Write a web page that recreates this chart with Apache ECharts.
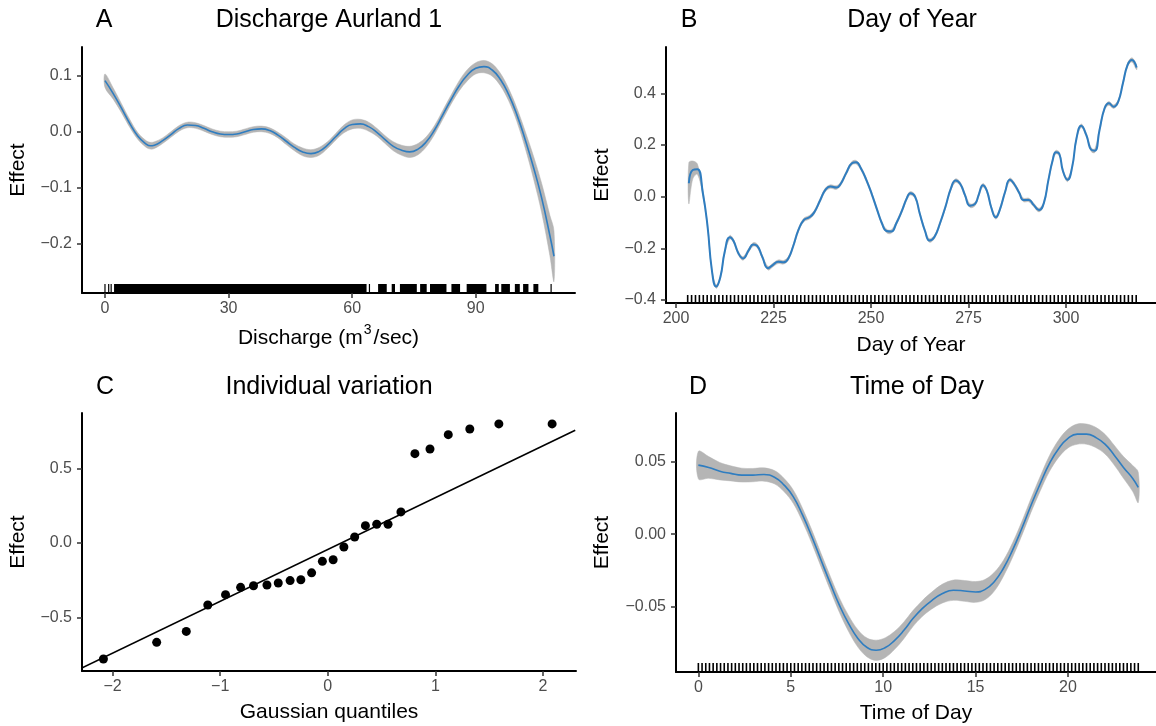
<!DOCTYPE html>
<html>
<head>
<meta charset="utf-8">
<script src="https://cdn.jsdelivr.net/npm/echarts@6/dist/echarts.min.js"></script>
<style>
  html, body { margin: 0; padding: 0; background: #fff; }
  #chart { width: 1156px; height: 726px; }
</style>
</head>
<body>
<div id="chart"></div>
<script>
// panel A: discharge smooth
const dischargeX = [0, 2, 4, 6, 8, 10, 11, 12, 14, 16, 18, 20, 22, 24, 26, 28, 30, 32, 34, 36,
  38, 40, 42, 44, 46, 48, 50, 52, 54, 56, 58, 60, 62, 64, 66, 68, 70, 72, 74, 76,
  78, 80, 82, 84, 86, 88, 90, 92, 94, 96, 98, 100, 102, 104, 106, 108, 109]
const dischargeFit = [0.091, 0.068, 0.042, 0.015, -0.008, -0.022, -0.025, -0.024, -0.016, -0.005,
  0.006, 0.012, 0.011, 0.006, 0.0, -0.004, -0.005, -0.004, 0.0, 0.004,
  0.005, 0.002, -0.006, -0.017, -0.028, -0.036, -0.039, -0.035, -0.024, -0.009,
  0.005, 0.013, 0.014, 0.009, -0.001, -0.014, -0.026, -0.033, -0.036, -0.031,
  -0.018, 0.003, 0.03, 0.057, 0.082, 0.101, 0.113, 0.116, 0.11, 0.093,
  0.066, 0.03, -0.014, -0.063, -0.118, -0.185, -0.222]
const dischargeSe = [0.012, 0.01, 0.008, 0.007, 0.006, 0.006, 0.006, 0.006, 0.005, 0.005,
  0.005, 0.005, 0.005, 0.005, 0.005, 0.005, 0.005, 0.005, 0.005, 0.005,
  0.005, 0.005, 0.005, 0.006, 0.006, 0.007, 0.007, 0.007, 0.006, 0.006,
  0.007, 0.008, 0.008, 0.008, 0.007, 0.007, 0.008, 0.009, 0.01, 0.01,
  0.009, 0.008, 0.008, 0.008, 0.009, 0.01, 0.01, 0.011, 0.011, 0.011,
  0.011, 0.012, 0.015, 0.02, 0.026, 0.036, 0.045]
// rug of observed discharge, as [from, to] blocks
const dischargeRug = [[0, 0.15], [0.9, 1.1], [1.5, 1.7], [2.2, 63.5], [64.2, 64.4], [66.3, 68.4],
  [69.6, 70.4], [71.6, 75.7], [76.5, 78.1], [78.9, 82.9], [84.1, 86.2], [87.8, 92.6],
  [94.7, 95.6], [96.2, 98.3], [99.5, 100.7], [101.5, 102.8], [104, 105.2], [108.3, 108.5]]

// panel B: day of year smooth
const doyX = [203.3, 204.3, 205.5, 206.9, 208.1, 209.2, 210.3, 211.4, 212.5, 213.8,
  214.7, 216, 217.2, 218.7, 219.8, 220.8, 222.1, 223.6, 224.8, 226.2,
  227.6, 228.8, 230, 231.4, 232.8, 234.2, 235.4, 237, 238.3, 239.6,
  241.1, 242.2, 243.6, 245.1, 246.2, 247.4, 248.8, 250.2, 251.6, 252.8,
  254, 255.2, 256.5, 258, 259.2, 260.1, 261.3, 262.5, 263.9, 265,
  266.3, 267.7, 269.1, 270.5, 271.7, 272.9, 274.1, 275.4, 276.7, 277.6,
  278.7, 279.7, 280.9, 282, 283, 284.4, 285.6, 286.7, 288, 289.1,
  290.5, 291.7, 293.1, 294.3, 295.5, 296.6, 297.4, 298.3, 299.2, 300.4,
  301.6, 302.7, 303.9, 305.2, 306.5, 307.4, 308.6, 309.9, 311, 312.2,
  313.4, 314.6, 315.8, 316.9, 318.1]
const doyFit = [0.052, 0.103, 0.106, 0.013, -0.116, -0.284, -0.348, -0.31, -0.213, -0.157,
  -0.17, -0.219, -0.239, -0.206, -0.185, -0.19, -0.232, -0.277, -0.265, -0.252,
  -0.254, -0.239, -0.194, -0.129, -0.09, -0.08, -0.062, -0.013, 0.026, 0.039,
  0.035, 0.049, 0.09, 0.129, 0.133, 0.11, 0.065, 0.01, -0.052, -0.103,
  -0.133, -0.135, -0.103, -0.052, -0.006, 0.013, 0.0, -0.065, -0.135, -0.17,
  -0.155, -0.103, -0.039, 0.032, 0.062, 0.049, 0.006, -0.035, -0.028, 0.006,
  0.044, 0.023, -0.045, -0.08, -0.052, 0.019, 0.065, 0.049, 0.015, -0.013,
  -0.013, -0.032, -0.052, -0.026, 0.065, 0.142, 0.172, 0.165, 0.10, 0.065,
  0.116, 0.226, 0.274, 0.239, 0.181, 0.178, 0.258, 0.342, 0.361, 0.348,
  0.368, 0.439, 0.51, 0.529, 0.5]
const doySe = [0.08, 0.035, 0.02, 0.012, 0.008, 0.007, 0.007, 0.007, 0.007, 0.007,
  0.007, 0.007, 0.007, 0.007, 0.007, 0.007, 0.007, 0.007, 0.007, 0.007,
  0.007, 0.007, 0.007, 0.007, 0.007, 0.007, 0.007, 0.007, 0.007, 0.007,
  0.007, 0.007, 0.007, 0.007, 0.007, 0.007, 0.007, 0.007, 0.007, 0.007,
  0.007, 0.007, 0.007, 0.007, 0.007, 0.007, 0.007, 0.007, 0.007, 0.007,
  0.007, 0.007, 0.007, 0.007, 0.007, 0.007, 0.007, 0.007, 0.007, 0.007,
  0.007, 0.007, 0.007, 0.007, 0.007, 0.007, 0.007, 0.007, 0.007, 0.007,
  0.007, 0.007, 0.007, 0.007, 0.007, 0.007, 0.007, 0.007, 0.007, 0.007,
  0.007, 0.007, 0.007, 0.007, 0.007, 0.007, 0.007, 0.007, 0.007, 0.007,
  0.007, 0.007, 0.007, 0.008, 0.009]
const doyRug = [203, 204, 205, 206, 207, 208, 209, 210, 211, 212, 213, 214, 215, 216, 217, 218, 219, 220,
  221, 222, 223, 224, 225, 226, 227, 228, 229, 230, 231, 232, 233, 234, 235, 236, 237, 238, 239, 240,
  241, 242, 243, 244, 245, 246, 247, 248, 249, 250, 251, 252, 253, 254, 255, 256, 257, 258, 259, 260,
  261, 262, 263, 264, 265, 266, 267, 268, 269, 270, 271, 272, 273, 274, 275, 276, 277, 278, 279, 280,
  281, 282, 283, 284, 285, 286, 287, 288, 289, 290, 291, 292, 293, 294, 295, 296, 297, 298, 299, 300,
  301, 302, 303, 304, 305, 306, 307, 308, 309, 310, 311, 312, 313, 314, 315, 316, 317, 318]

// panel C: QQ plot of individual effects
const gaussQ = [-2.085, -1.59, -1.315, -1.115, -0.95, -0.81, -0.69, -0.565, -0.46, -0.35,
  -0.25, -0.15, -0.05, 0.05, 0.15, 0.25, 0.35, 0.455, 0.56, 0.68,
  0.81, 0.95, 1.12, 1.32, 1.59, 2.085]
const indEffect = [-0.777, -0.665, -0.592, -0.415, -0.346, -0.297, -0.286, -0.281, -0.268, -0.252,
  -0.246, -0.2, -0.123, -0.112, -0.027, 0.04, 0.116, 0.125, 0.125, 0.208,
  0.598, 0.629, 0.725, 0.763, 0.797, 0.797]
const qqLine = [[-2.3, -0.842], [2.3, 0.754]]

// panel D: time of day smooth
const hourX = [0, 0.56, 1.16, 1.75, 2.35, 2.95, 3.55, 4.14, 4.64, 5.14,
  5.64, 6.14, 6.64, 7.14, 7.63, 8.13, 8.63, 9.13, 9.62, 10.12,
  10.62, 11.12, 11.61, 12.11, 12.61, 13.21, 13.8, 14.4, 15, 15.5,
  16, 16.5, 17, 17.5, 18, 18.5, 19, 19.5, 20, 20.5,
  21, 21.5, 22, 22.5, 23, 23.5, 23.8]
const hourFit = [0.0477, 0.0461, 0.0435, 0.042, 0.0408, 0.0408, 0.0412, 0.0392, 0.0339, 0.0258,
  0.0131, -0.0018, -0.018, -0.034, -0.049, -0.0618, -0.072, -0.0783, -0.0802, -0.0783,
  -0.0733, -0.0664, -0.0583, -0.0514, -0.046, -0.041, -0.0387, -0.0392, -0.0399, -0.0383,
  -0.033, -0.0237, -0.011, 0.0039, 0.02, 0.035, 0.0489, 0.0592, 0.0661, 0.0691,
  0.0691, 0.0668, 0.0622, 0.0546, 0.0461, 0.0385, 0.0323]
const hourSe = [0.0095, 0.0075, 0.006, 0.0052, 0.0048, 0.0046, 0.0046, 0.0046, 0.0046, 0.0046,
  0.0046, 0.0046, 0.0046, 0.0048, 0.005, 0.0055, 0.006, 0.0065, 0.007, 0.0068,
  0.0062, 0.0058, 0.0055, 0.0055, 0.0058, 0.0065, 0.007, 0.0072, 0.0072, 0.007,
  0.0065, 0.0055, 0.005, 0.0048, 0.0048, 0.005, 0.0055, 0.006, 0.0065, 0.007,
  0.007, 0.007, 0.0068, 0.0068, 0.0075, 0.009, 0.0105]
const hourRug = [0, 0.2, 0.4, 0.6, 0.8, 1, 1.2, 1.4, 1.6, 1.8, 2, 2.2, 2.4, 2.6, 2.8,
  3, 3.2, 3.4, 3.6, 3.8, 4, 4.2, 4.4, 4.6, 4.8, 5, 5.2, 5.4, 5.6, 5.8,
  6, 6.2, 6.4, 6.6, 6.8, 7, 7.2, 7.4, 7.6, 7.8, 8, 8.2, 8.4, 8.6, 8.8,
  9, 9.2, 9.4, 9.6, 9.8, 10, 10.2, 10.4, 10.6, 10.8, 11, 11.2, 11.4, 11.6, 11.8,
  12, 12.2, 12.4, 12.6, 12.8, 13, 13.2, 13.4, 13.6, 13.8, 14, 14.2, 14.4, 14.6, 14.8,
  15, 15.2, 15.4, 15.6, 15.8, 16, 16.2, 16.4, 16.6, 16.8, 17, 17.2, 17.4, 17.6, 17.8,
  18, 18.2, 18.4, 18.6, 18.8, 19, 19.2, 19.4, 19.6, 19.8, 20, 20.2, 20.4, 20.6, 20.8,
  21, 21.2, 21.4, 21.6, 21.8, 22, 22.2, 22.4, 22.6, 22.8, 23, 23.2, 23.4, 23.6, 23.8]

const yTicksA = [-0.2, -0.1, 0, 0.1]
const xTicksA = [0, 30, 60, 90]
const yTicksB = [-0.4, -0.2, 0, 0.2, 0.4]
const xTicksB = [200, 225, 250, 275, 300]
const yTicksC = [-0.5, 0, 0.5]
const xTicksC = [-2, -1, 0, 1, 2]
const yTicksD = [-0.05, 0, 0.05]
const xTicksD = [0, 5, 10, 15, 20]

const FONT = '"Liberation Sans", Arial, sans-serif'
const BLUE = '#2f7dc0'
const BAND = '#b5b5b5'

// axis ranges per panel (ggplot expanded limits)
const rangeA = { x: [-5.58, 114.1], y: [-0.2875, 0.151] }
const rangeB = { x: [197.44, 323.08], y: [-0.4116, 0.579] }
const rangeC = { x: [-2.284, 2.307], y: [-0.857, 0.870] }
const rangeD = { x: [-1.21, 24.76], y: [-0.0952, 0.0837] }

function fmt(d) {
  return function (v) {
    const s = Math.abs(v).toFixed(d)
    return v < 0 ? '\u2212' + s : s
  }
}

function makeAxis(gridIndex, range, ticks, digits, name, gap, isY, lineH) {
  return {
    type: 'value', gridIndex: gridIndex,
    min: range[0], max: range[1], z: 5,
    name: name, nameLocation: 'middle', nameGap: gap,
    nameRotate: isY ? 90 : 0,
    nameTextStyle: {
      fontFamily: FONT, fontSize: 21, color: '#000', lineHeight: lineH || 24,
      rich: { sup: { fontFamily: FONT, fontSize: 14, color: '#000', verticalAlign: 'top', padding: [0, 2, 0, 1] } }
    },
    axisLine: { show: true, onZero: false, lineStyle: { color: '#000', width: 2 } },
    axisTick: { show: true, length: 5, customValues: ticks, lineStyle: { color: '#333', width: 1.5 } },
    axisLabel: {
      customValues: ticks, formatter: fmt(digits), margin: isY ? 10 : 8,
      fontFamily: FONT, fontSize: 16, color: '#4d4d4d'
    },
    splitLine: { show: false }
  }
}

// confidence band drawn as one polygon (upper edge forward, lower edge back)
function bandSeries(idx, xs, fit, se, lw) {
  const rows = xs.map((x, i) => [x, fit[i] - se[i], fit[i] + se[i]])
  return [
    {
      type: 'custom', xAxisIndex: idx, yAxisIndex: idx, data: rows, silent: true,
      encode: { x: 0, y: [1, 2] },
      renderItem: function (params, api) {
        if (params.dataIndexInside !== 0) return null
        const n = params.dataInsideLength
        const up = [], lo = []
        for (let i = 0; i < n; i++) {
          up.push(api.coord([api.value(0, i), api.value(2, i)]))
          lo.push(api.coord([api.value(0, i), api.value(1, i)]))
        }
        return {
          type: 'group', children: [
            { type: 'polygon', shape: { points: up.concat(lo.reverse()), smooth: 0.35 },
              style: { fill: BAND, stroke: BAND, lineWidth: 0.5 } }
          ]
        }
      }
    },
    { type: 'line', xAxisIndex: idx, yAxisIndex: idx, data: xs.map((x, i) => [x, fit[i]]),
      smooth: 0.5, showSymbol: false, silent: true, z: 3,
      lineStyle: { color: BLUE, width: lw } }
  ]
}

function rugSeries(idx, blocks, yMin, h, w) {
  return {
    type: 'custom', xAxisIndex: idx, yAxisIndex: idx, data: blocks, silent: true,
    encode: { x: [0, 1] }, clip: false, z: 4,
    renderItem: function (params, api) {
      const a = api.coord([api.value(0), yMin])
      const b = api.coord([api.value(1), yMin])
      let x0 = a[0], wd = b[0] - a[0]
      if (wd < w) { x0 = a[0] - w / 2; wd = w }
      return { type: 'rect', shape: { x: x0, y: a[1] - h, width: wd, height: h }, style: { fill: '#000' } }
    }
  }
}

function label(text, x, y, size) {
  return { type: 'text', x: x, y: y, silent: true,
    style: { text: text, fontFamily: FONT, fontSize: size, fill: '#000', align: 'center', verticalAlign: 'middle' } }
}

const chart = echarts.init(document.getElementById('chart'))
chart.setOption({
  animation: false,
  backgroundColor: '#fff',
  grid: [
    { left: 82, top: 47, width: 493, height: 246 },
    { left: 666, top: 47, width: 490, height: 256 },
    { left: 82, top: 413, width: 494, height: 258 },
    { left: 676, top: 413, width: 480, height: 259 }
  ],
  xAxis: [
    makeAxis(0, rangeA.x, xTicksA, 0, 'Discharge (m{sup|3}/sec)', 30, false, 30),
    makeAxis(1, rangeB.x, xTicksB, 0, 'Day of Year', 30, false),
    makeAxis(2, rangeC.x, xTicksC, 0, 'Gaussian quantiles', 29, false),
    makeAxis(3, rangeD.x, xTicksD, 0, 'Time of Day', 29, false)
  ],
  yAxis: [
    makeAxis(0, rangeA.y, yTicksA, 1, 'Effect', 52, true),
    makeAxis(1, rangeB.y, yTicksB, 1, 'Effect', 52, true),
    makeAxis(2, rangeC.y, yTicksC, 1, 'Effect', 52, true),
    makeAxis(3, rangeD.y, yTicksD, 2, 'Effect', 62, true)
  ],
  graphic: [
    label('A', 104, 20, 25), label('Discharge Aurland 1', 329, 20, 25),
    label('B', 689, 20, 25), label('Day of Year', 912, 20, 25),
    label('C', 105, 387, 25), label('Individual variation', 329, 387, 25),
    label('D', 698, 387, 25), label('Time of Day', 917, 387, 25)
  ],
  series: [
    ...bandSeries(0, dischargeX, dischargeFit, dischargeSe, 1.6),
    rugSeries(0, dischargeRug, rangeA.y[0], 9, 1.2),
    ...bandSeries(1, doyX, doyFit, doySe, 2),
    rugSeries(1, doyRug.map(d => [d, d]), rangeB.y[0], 8, 1.6),
    { type: 'line', xAxisIndex: 2, yAxisIndex: 2, data: qqLine, showSymbol: false, silent: true,
      lineStyle: { color: '#000', width: 1.6 } },
    { type: 'scatter', xAxisIndex: 2, yAxisIndex: 2, data: gaussQ.map((q, i) => [q, indEffect[i]]),
      symbolSize: 9, itemStyle: { color: '#000', opacity: 1 }, silent: true },
    ...bandSeries(3, hourX, hourFit, hourSe, 1.6),
    rugSeries(3, hourRug.map(h => [h, h]), rangeD.y[0], 9, 1.6)
  ]
})
</script>
</body>
</html>
